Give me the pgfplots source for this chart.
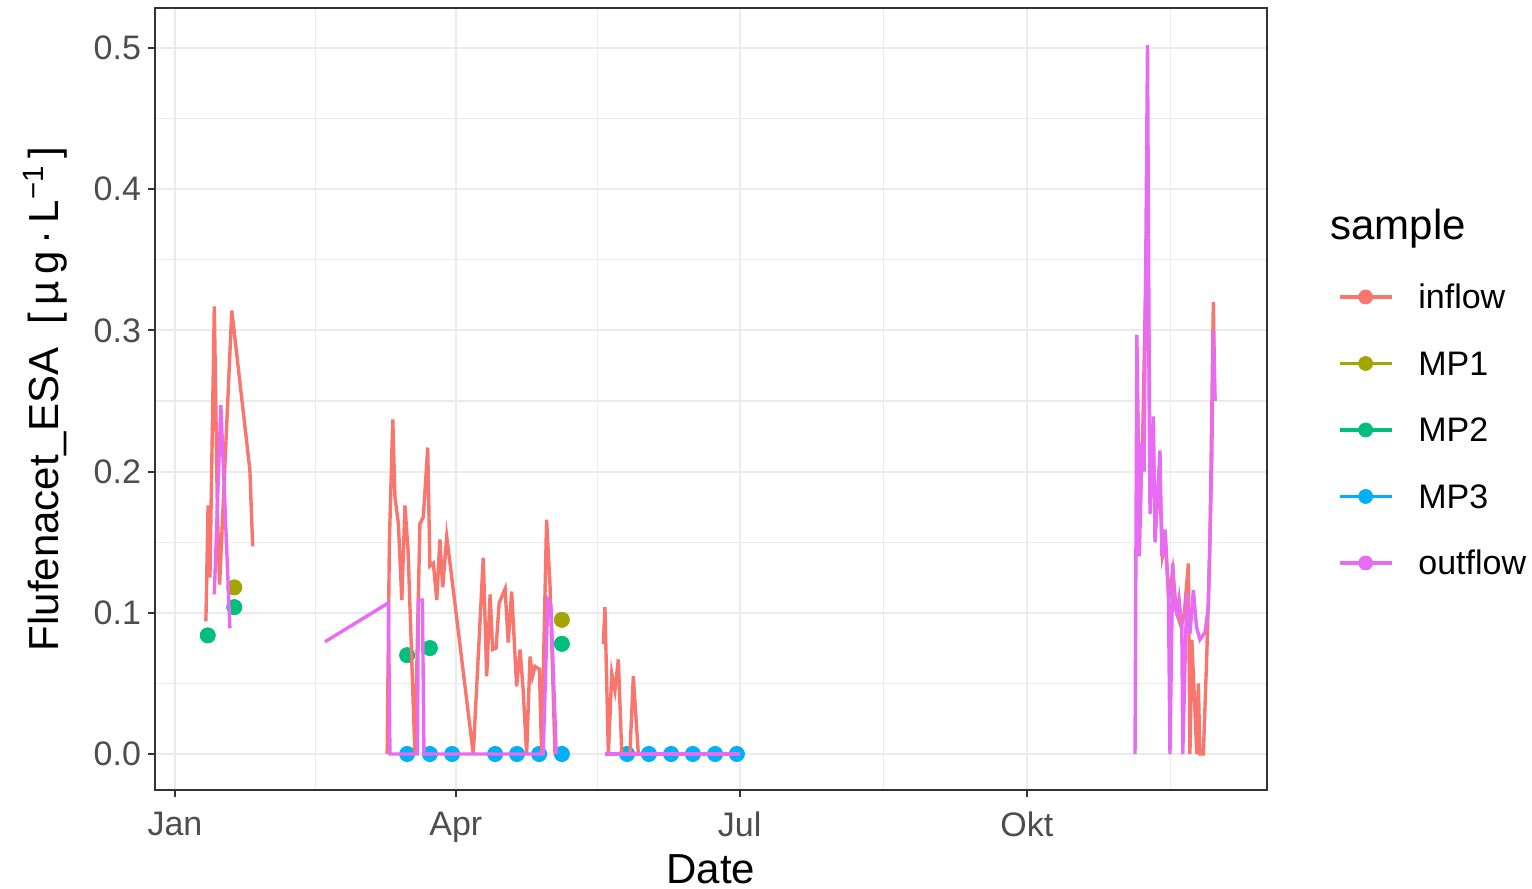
\documentclass[border=0pt]{standalone}
\usepackage{fontspec}
\setmainfont{Liberation Sans}
\usepackage{pgfplots}
\pgfplotsset{compat=1.18}
\definecolor{cinflow}{HTML}{F8766D}
\definecolor{cmpone}{HTML}{A3A500}
\definecolor{cmptwo}{HTML}{00BF7D}
\definecolor{cmpthree}{HTML}{00B0F6}
\definecolor{coutflow}{HTML}{E76BF3}
\definecolor{gridc}{HTML}{EBEBEB}
\definecolor{greytw}{HTML}{333333}
\definecolor{greyth}{HTML}{4D4D4D}
\begin{document}
\begin{tikzpicture}
\useasboundingbox (-77.5pt,-49.5pt) rectangle (688.5pt,395pt);
\begin{axis}[
  name=ax, at={(0pt,0pt)}, anchor=south west,
  scale only axis, width=556pt, height=391pt,
  xmin=-6.41, xmax=350.0, ymin=-0.0255, ymax=0.5283,
  axis line style={greytw, line width=1pt},
  xtick={0,90,181,273}, xticklabels={Jan,Apr,Jul,Okt},
  minor xtick={45,135.5,227,319},
  ytick={0,0.1,0.2,0.3,0.4,0.5},
  minor ytick={0.05,0.15,0.25,0.35,0.45},
  grid=both,
  major grid style={gridc, line width=1pt},
  minor grid style={gridc, line width=0.55pt},
  tick align=outside, major tick length=3.5pt, minor tick length=0pt,
  xtick pos=bottom, ytick pos=left,
  tick style={greytw, line width=1pt},
  ticklabel style={font=\fontsize{17}{20}\selectfont, text=greyth},
  xticklabel style={yshift=-4pt},
  yticklabel style={/pgf/number format/.cd, fixed, fixed zerofill, precision=1, assume math mode=true},
  xlabel={Date},
  ylabel={Flufenacet\_ESA\ \ [\,µ\,g\,·\,L\textsuperscript{−1}\,]},
  label style={font=\fontsize{21}{25}\selectfont, text=black},
  xlabel style={at={(axis description cs:0.5,-0.1190)}, anchor=base, inner sep=0pt},
  ylabel style={at={(axis description cs:-0.0989,0.5)}, anchor=center},
  clip mode=individual,
  legend cell align=left,
  legend style={at={(1.0638,0.6458)}, anchor=north west, draw=none, fill=none,
    inner sep=0pt, outer sep=0pt, row sep=21.25pt, column sep=12.5pt,
    font=\fontsize{17}{20}\selectfont,
    nodes={inner sep=0pt, text height=12pt, text depth=0pt}},
]
% ---- points (MP1, MP2, MP3)
\addplot[only marks, mark=*, mark size=3.8pt, cmpone, forget plot] coordinates {
 (19.0,0.118) (124.0,0.095)};
\addplot[only marks, mark=*, mark size=3.8pt, cmptwo, forget plot] coordinates {
 (10.5,0.084) (19.0,0.104) (74.4,0.070) (81.7,0.075) (124.0,0.078)};
\addplot[only marks, mark=*, mark size=3.8pt, cmpthree, forget plot] coordinates {
 (74.4,0) (81.7,0) (88.8,0) (102.6,0) (109.6,0) (116.7,0) (124.0,0)
 (144.9,0) (151.9,0) (159.0,0) (166.0,0) (173.1,0) (180.1,0)};
% ---- inflow lines
\addplot[cinflow, line width=1.7pt, forget plot] coordinates {
 (9.9,0.094) (10.6,0.176) (11.2,0.125) (12.6,0.317) (13.6,0.17) (14.3,0.12)
 (18.2,0.314) (24.0,0.201) (24.9,0.147)};
\addplot[cinflow, line width=1.7pt, forget plot] coordinates {
 (68.0,0) (68.7,0.149) (69.8,0.237) (70.5,0.182) (71.6,0.163) (72.7,0.109)
 (73.7,0.176) (74.7,0.144) (76.9,0) (78.5,0.163) (79.6,0.168) (81.0,0.217)
 (81.7,0.133) (82.8,0.135) (83.9,0.109) (84.9,0.152) (85.8,0.118) (87.1,0.154)
 (95.6,0) (98.8,0.139) (99.9,0.055) (101.0,0.113) (101.8,0.074) (102.9,0.075)
 (103.9,0.107) (105.8,0.117) (106.8,0.079) (107.9,0.115) (109.5,0.048)
 (110.6,0.074) (111.6,0.045) (112.7,0) (113.8,0.069) (114.6,0.055)
 (115.4,0.062) (116.8,0.060) (117.5,0) (119.1,0.166) (120.2,0.119) (121.8,0)};
\addplot[cinflow, line width=1.7pt, forget plot] coordinates {
 (137.3,0.078) (137.8,0.104) (138.9,0) (140.0,0.057) (141.0,0.045)
 (142.1,0.067) (143.2,0) (145.8,0) (146.9,0.055) (148.5,0)};
\addplot[cinflow, line width=1.7pt, forget plot] coordinates {
 (308.3,0.28) (309.2,0.16) (310.2,0.23) (311.7,0.40) (312.5,0.18) (313.5,0.22)
 (314.3,0.16) (315.5,0.20) (316.5,0.14) (317.5,0.15) (318.5,0.11) (319.8,0.13)
 (321.0,0.10) (322.5,0.09) (323.5,0.10) (324.8,0.135) (325.3,0) (325.9,0.081)
 (327.5,0) (328.0,0.05) (328.5,0) (329.6,0) (330.7,0.07) (331.7,0.15)
 (332.8,0.32) (333.3,0.25)};
% ---- outflow lines
\addplot[coutflow, line width=1.7pt, forget plot] coordinates {
 (12.6,0.113) (14.7,0.247) (17.6,0.089)};
\addplot[coutflow, line width=1.7pt, forget plot] coordinates {
 (48.1,0.0795) (68.4,0.107) (68.9,0) (77.7,0) (78.0,0.109) (79.3,0.109)
 (79.8,0) (118.0,0) (119.5,0.109) (120.5,0.105) (122.2,0)};
\addplot[coutflow, line width=1.7pt, forget plot] coordinates {
 (137.8,0) (181.1,0)};
\addplot[coutflow, line width=1.7pt, forget plot] coordinates {
 (307.7,0) (308.3,0.297) (309.1,0.14) (309.9,0.22) (310.6,0.20) (311.7,0.502)
 (312.5,0.17) (313.0,0.20) (313.6,0.239) (314.1,0.15) (315.1,0.19) (315.7,0.215)
 (316.3,0.14) (317.3,0.159) (318.4,0.114) (318.9,0) (319.8,0.135) (320.4,0.105)
 (321.1,0.100) (321.8,0.11) (322.7,0.090) (323.0,0) (324.3,0.114) (324.9,0.095)
 (325.3,0.085) (326.4,0.116) (327.4,0.09) (328.5,0.081) (330.1,0.086)
 (331.2,0.104) (332.3,0.208) (332.8,0.30) (333.3,0.25)};
% ---- legend
\addlegendimage{legend image code/.code={\draw[cinflow,line width=1.7pt] (0pt,0pt) -- (26pt,0pt); \fill[cinflow] (13pt,0pt) circle (3.5pt);}}
\addlegendentry{inflow}
\addlegendimage{legend image code/.code={\draw[cmpone,line width=1.7pt] (0pt,0pt) -- (26pt,0pt); \fill[cmpone] (13pt,0pt) circle (3.5pt);}}
\addlegendentry{MP1}
\addlegendimage{legend image code/.code={\draw[cmptwo,line width=1.7pt] (0pt,0pt) -- (26pt,0pt); \fill[cmptwo] (13pt,0pt) circle (3.5pt);}}
\addlegendentry{MP2}
\addlegendimage{legend image code/.code={\draw[cmpthree,line width=1.7pt] (0pt,0pt) -- (26pt,0pt); \fill[cmpthree] (13pt,0pt) circle (3.5pt);}}
\addlegendentry{MP3}
\addlegendimage{legend image code/.code={\draw[coutflow,line width=1.7pt] (0pt,0pt) -- (26pt,0pt); \fill[coutflow] (13pt,0pt) circle (3.5pt);}}
\addlegendentry{outflow}
\end{axis}
\node[anchor=west, inner sep=0pt, font=\fontsize{21}{25}\selectfont] at (587.5pt,280.5pt) {sample};
\end{tikzpicture}
\end{document}
